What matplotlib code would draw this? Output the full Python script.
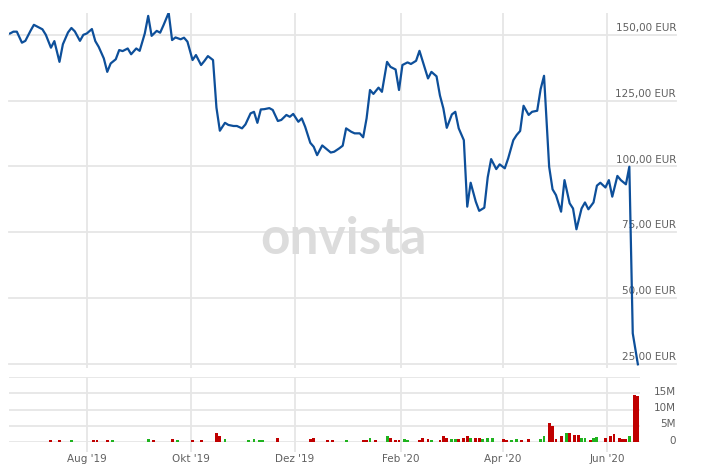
import matplotlib
matplotlib.use("Agg")
import matplotlib.pyplot as plt
import pandas as pd

# closing prices (EUR)
price_dates = [
    "2019-06-17", "2019-06-19", "2019-06-21", "2019-06-24", "2019-06-26", "2019-06-29",
    "2019-07-01", "2019-07-04", "2019-07-06", "2019-07-08", "2019-07-11", "2019-07-13",
    "2019-07-16", "2019-07-18", "2019-07-21", "2019-07-23", "2019-07-25", "2019-07-28",
    "2019-07-30", "2019-08-01", "2019-08-04", "2019-08-06", "2019-08-08", "2019-08-11",
    "2019-08-13", "2019-08-15", "2019-08-18", "2019-08-20", "2019-08-22", "2019-08-25",
    "2019-08-27", "2019-08-30", "2019-09-01", "2019-09-04", "2019-09-06", "2019-09-08",
    "2019-09-11", "2019-09-13", "2019-09-15", "2019-09-18", "2019-09-20", "2019-09-22",
    "2019-09-25", "2019-09-27", "2019-09-29", "2019-10-02", "2019-10-04", "2019-10-07",
    "2019-10-09", "2019-10-11", "2019-10-14", "2019-10-16", "2019-10-18", "2019-10-21",
    "2019-10-23", "2019-10-26", "2019-10-28", "2019-10-31", "2019-11-02", "2019-11-05",
    "2019-11-07", "2019-11-09", "2019-11-11", "2019-11-13", "2019-11-16", "2019-11-18",
    "2019-11-21", "2019-11-23", "2019-11-26", "2019-11-28", "2019-11-30", "2019-12-03",
    "2019-12-05", "2019-12-07", "2019-12-10", "2019-12-12", "2019-12-14", "2019-12-17",
    "2019-12-19", "2019-12-22", "2019-12-24", "2019-12-27", "2019-12-29", "2019-12-31",
    "2020-01-03", "2020-01-05", "2020-01-08", "2020-01-10", "2020-01-12", "2020-01-14",
    "2020-01-16", "2020-01-19", "2020-01-21", "2020-01-24", "2020-01-26", "2020-01-29",
    "2020-01-31", "2020-02-02", "2020-02-05", "2020-02-07", "2020-02-10", "2020-02-12",
    "2020-02-14", "2020-02-17", "2020-02-19", "2020-02-22", "2020-02-24", "2020-02-26",
    "2020-02-28", "2020-03-02", "2020-03-04", "2020-03-06", "2020-03-09", "2020-03-11",
    "2020-03-13", "2020-03-16", "2020-03-18", "2020-03-21", "2020-03-23", "2020-03-25",
    "2020-03-28", "2020-03-30", "2020-04-02", "2020-04-04", "2020-04-07", "2020-04-09",
    "2020-04-11", "2020-04-13", "2020-04-16", "2020-04-18", "2020-04-21", "2020-04-23",
    "2020-04-25", "2020-04-28", "2020-04-30", "2020-05-02", "2020-05-05", "2020-05-07",
    "2020-05-10", "2020-05-12", "2020-05-14", "2020-05-17", "2020-05-19", "2020-05-21",
    "2020-05-24", "2020-05-26", "2020-05-28", "2020-05-31", "2020-06-02", "2020-06-04",
    "2020-06-07", "2020-06-09", "2020-06-12", "2020-06-14", "2020-06-16", "2020-06-19",
]
price_vals = [
    150.6, 151.3, 151.3, 147.1, 147.8, 151.6,
    153.9, 152.9, 152.2, 150.1, 145.2, 147.7,
    139.8, 146.5, 151.0, 152.7, 151.4, 147.8,
    150.1, 150.6, 152.3, 147.7, 145.5, 141.1,
    136.0, 139.2, 140.8, 144.3, 143.9, 144.9,
    142.7, 144.9, 144.0, 150.6, 157.3, 149.7,
    151.6, 150.9, 153.8, 158.5, 148.1, 149.1,
    148.4, 149.0, 147.5, 140.5, 142.4, 138.6,
    140.2, 142.0, 140.5, 122.4, 113.6, 116.6,
    115.8, 115.4, 115.4, 114.5, 116.0, 120.2,
    120.8, 116.6, 121.7, 121.8, 122.2, 121.5,
    117.3, 117.7, 119.6, 118.9, 120.0, 117.0,
    118.3, 115.1, 109.0, 107.5, 104.3, 108.0,
    106.9, 105.3, 105.6, 106.9, 107.9, 114.5,
    113.2, 112.6, 112.6, 111.1, 118.3, 129.1,
    127.6, 130.0, 128.4, 139.8, 137.9, 136.9,
    129.1, 138.6, 139.6, 139.0, 140.2, 144.0,
    139.8, 133.5, 136.0, 134.3, 127.0, 122.1,
    114.7, 119.8, 120.8, 114.5, 110.0, 84.7,
    93.8, 86.6, 83.1, 84.3, 95.9, 102.8,
    99.0, 100.8, 99.3, 103.1, 110.0, 112.0,
    113.5, 123.1, 119.6, 120.8, 121.2, 129.4,
    134.5, 99.9, 91.3, 89.1, 82.8, 94.8,
    86.0, 84.0, 76.1, 84.0, 86.3, 83.7,
    86.3, 92.7, 93.8, 92.0, 94.8, 88.5,
    96.4, 94.8, 93.2, 99.9, 36.5, 24.7,
]

# traded volume in millions, g = up day, r = down day
vol_dates = [
    "2019-07-11", "2019-07-16", "2019-07-23", "2019-08-05", "2019-08-07", "2019-08-13",
    "2019-08-16", "2019-09-06", "2019-09-09", "2019-09-20", "2019-09-23", "2019-10-02",
    "2019-10-07", "2019-10-16", "2019-10-18", "2019-10-21", "2019-11-04", "2019-11-07",
    "2019-11-10", "2019-11-12", "2019-11-21", "2019-12-10", "2019-12-12", "2019-12-20",
    "2019-12-23", "2019-12-31", "2020-01-10", "2020-01-12", "2020-01-14", "2020-01-17",
    "2020-01-24", "2020-01-26", "2020-01-29", "2020-01-31", "2020-02-03", "2020-02-05",
    "2020-02-12", "2020-02-14", "2020-02-17", "2020-02-19", "2020-02-24", "2020-02-26",
    "2020-02-28", "2020-03-02", "2020-03-04", "2020-03-06", "2020-03-09", "2020-03-11",
    "2020-03-13", "2020-03-16", "2020-03-18", "2020-03-20", "2020-03-23", "2020-03-26",
    "2020-04-01", "2020-04-03", "2020-04-06", "2020-04-09", "2020-04-12", "2020-04-16",
    "2020-04-23", "2020-04-25", "2020-04-28", "2020-04-30", "2020-05-02", "2020-05-05",
    "2020-05-08", "2020-05-10", "2020-05-13", "2020-05-15", "2020-05-17", "2020-05-19",
    "2020-05-22", "2020-05-24", "2020-05-26", "2020-05-31", "2020-06-03", "2020-06-05",
    "2020-06-08", "2020-06-10", "2020-06-12", "2020-06-14", "2020-06-17", "2020-06-19",
]
vol_vals = [
    0.6, 0.6, 0.5, 0.6, 0.6, 0.6,
    0.6, 0.9, 0.6, 0.9, 0.6, 0.6,
    0.6, 2.9, 1.7, 0.9, 0.6, 0.9,
    0.6, 0.5, 1.35, 0.9, 1.25, 0.5,
    0.5, 0.5, 0.5, 0.6, 1.1, 0.6,
    1.7, 1.25, 0.6, 0.6, 0.8, 0.6,
    0.6, 1.1, 0.9, 0.6, 0.6, 1.7,
    1.35, 0.8, 0.8, 0.8, 1.25, 1.7,
    1.25, 1.1, 1.25, 0.9, 1.1, 1.1,
    0.8, 0.6, 0.6, 0.8, 0.6, 0.8,
    0.9, 1.7, 5.8, 4.8, 1.0, 1.7,
    2.7, 2.9, 2.1, 2.1, 1.1, 1.1,
    0.6, 1.1, 1.55, 1.1, 1.7, 2.4,
    1.1, 0.9, 0.8, 1.7, 14.4, 14.1,
]
vol_dir = [
    "rrgrrr", "ggrrgr", "rrrggg", "ggrrrr", "rgrrgr", "grrrgg", "rrrgrr",
    "rggrrr", "grrggg", "rrggrr", "ggrrrr", "grrrgg", "rggrrr", "rrrgrr",
]

tick_dates = ["2019-08-01", "2019-10-01", "2019-12-01", "2020-02-01", "2020-04-01", "2020-06-01"]
tick_labels = ["Aug '19", "Okt '19", "Dez '19", "Feb '20", "Apr '20", "Jun '20"]
price_ticks = [25, 50, 75, 100, 125, 150]
vol_ticks = [0, 5, 10, 15, 20]
vol_tick_labels = ["0", "5M", "10M", "15M", ""]

W, H = 706, 467
fig = plt.figure(figsize=(W / 100, H / 100), dpi=100)
ax = fig.add_axes([9 / W, 1 - 368 / H, 631 / W, 355 / H])
axv = fig.add_axes([9 / W, 1 - 442 / H, 631 / W, 65 / H], sharex=ax)

grid_c = "#e6e6e6"
txt_c = "#606060"
x_dates = pd.to_datetime(price_dates)
v_dates = pd.to_datetime(vol_dates)
t_dates = pd.to_datetime(tick_dates)

for a in (ax, axv):
    for s in a.spines.values():
        s.set_visible(False)
    for t in t_dates:
        a.axvline(t, color=grid_c, lw=1.3, zorder=0)

ext = (676 - 9) / 631
for v in price_ticks:
    ax.axhline(v, xmin=0, xmax=ext, color=grid_c, lw=1.3, zorder=0, clip_on=False)
    ax.annotate(f"{v},00 EUR", xy=(1, v), xycoords=("axes fraction", "data"),
                xytext=(26, 5), textcoords="offset points", ha="right", va="center",
                fontsize=7.5, color=txt_c)

ax.plot(x_dates, price_vals, color="#0d4f9a", lw=1.6, zorder=3, solid_joinstyle="round")
ax.set_xlim(pd.Timestamp("2019-06-16 10:00"), pd.Timestamp("2020-06-20 06:00"))
ax.set_ylim(23.3, 158.4)
ax.set_yticks([])
ax.tick_params(axis="x", which="both", bottom=False, labelbottom=False)

dirs = "".join(vol_dir)
cols = ["#1fb31f" if c == "g" else "#c00000" for c in dirs]
axv.bar(v_dates, vol_vals, width=1.7, color=cols, zorder=2)
for v, lab in zip(vol_ticks, vol_tick_labels):
    axv.axhline(v, color=grid_c, lw=1.3, zorder=0)
    axv.annotate(lab, xy=(1, v), xycoords=("axes fraction", "data"),
                 xytext=(26, 1), textcoords="offset points", ha="right", va="center",
                 fontsize=7.5, color=txt_c)
axv.set_ylim(0, 20)
axv.set_yticks([])
axv.set_xticks(t_dates)
axv.set_xticklabels(tick_labels)
axv.tick_params(axis="x", length=7.5, color=grid_c, width=1.3, pad=1.5, labelsize=7.5, labelcolor=txt_c)

fig.text(343 / W, 1 - 240 / H, "onvista", fontsize=37, fontweight="bold", family="Lato",
         color="#dcdcdc", ha="center", va="center")

fig.savefig("out.png", dpi=100)
